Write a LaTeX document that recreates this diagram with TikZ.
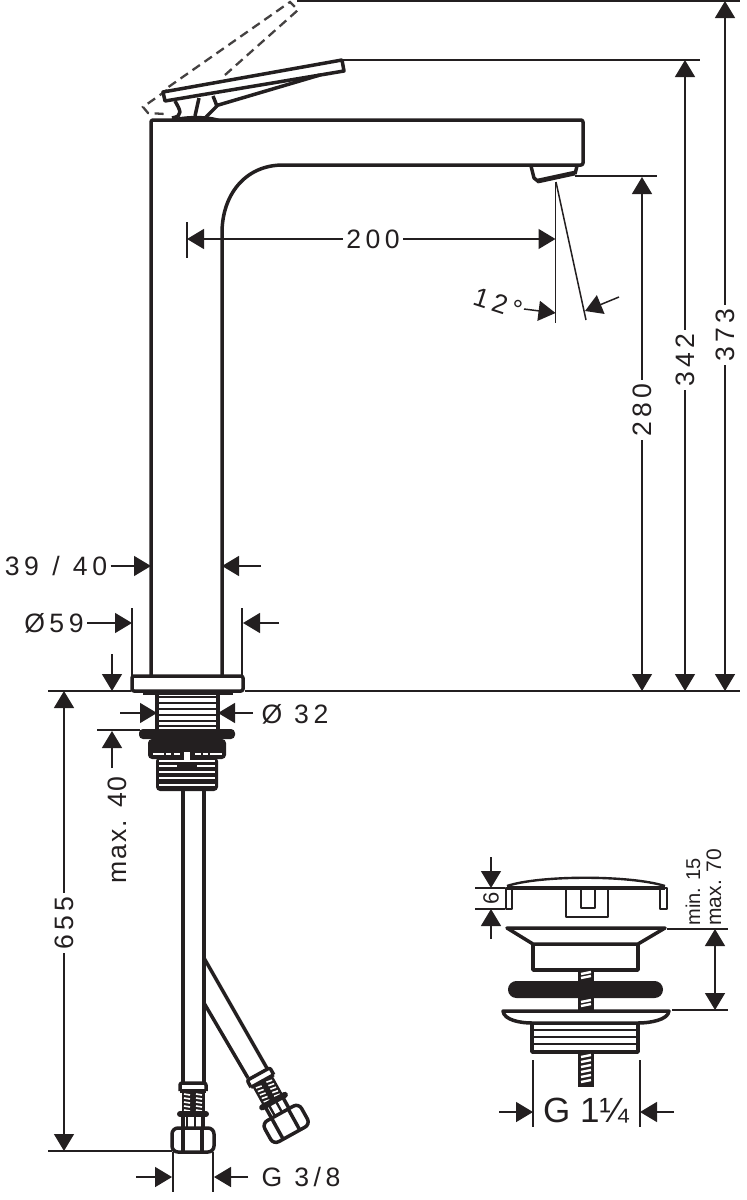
\documentclass[tikz,border=0pt]{standalone}
\usepackage{fontspec}
\usetikzlibrary{arrows.meta}
\newfontfamily\dimfont[LetterSpace=17]{Liberation Sans}
\newfontfamily\tightfont[LetterSpace=7]{Liberation Sans}
\newfontfamily\smallfont{Liberation Sans}
\definecolor{ink}{HTML}{231F20}
\tikzset{
    thickline/.style={line width=1.75pt,color=ink,line join=round},
    midline/.style={line width=1.2pt,color=ink,line join=round},
    dashline/.style={line width=1.15pt,color=ink!85,dash pattern=on 4.5pt off 2.8pt},
    thinline/.style={line width=0.75pt,color=ink},
    dimtip/.style={thinline,-{Triangle[length=8.5pt,width=10pt]}},
    dimboth/.style={thinline,{Triangle[length=8.5pt,width=10pt]}-{Triangle[length=8.5pt,width=10pt]}},
    dimtext/.style={font=\dimfont\fontsize{13.3}{15}\selectfont,color=ink,inner sep=1.5pt},
    hoseend/.pic={
        % collar, crimp, neck and nut of one hose
        \draw[thickline,fill=white,rounded corners=1pt] (-13,8) -- (-13,0) -- (13,0) -- (13,8);
        \draw[thickline] (-13,8) -- (13,8);
        \fill[ink] (-11.5,8) rectangle (11.5,31);
        \foreach \ya in {11,15,19,23,27} {
            \draw[line width=0.8pt,white] (-9,\ya) -- (-3,\ya+1);
            \draw[line width=0.8pt,white] (3,\ya) -- (9,\ya+1);
        }
        \draw[line width=3pt,color=ink,line cap=round] (-13,31) -- (13,31);
        \draw[thickline] (-10,33) -- (-10,45);
        \draw[midline] (-6,33) -- (-6,45);
        \draw[midline] (2,33) -- (2,45);
        \draw[thickline] (10,33) -- (10,45);
        \draw[thickline,fill=white,rounded corners=3pt] (-21,45) rectangle (21,69);
        \draw[thickline] (-10,45) -- (-10,69);
        \draw[thickline] (9,45) -- (9,69);
    },
}
\begin{document}
\begin{tikzpicture}[x=0.5pt,y=-0.5pt]
    \useasboundingbox (0,0) rectangle (747,1200);
    % tips of the dimension arrows
    \coordinate (T200a) at (187,239);
    \coordinate (T200b) at (555.5,239);
    \coordinate (T12a) at (555.5,313);
    \coordinate (E12a) at (524,309);
    \coordinate (T12b) at (585,311);
    \coordinate (E12b) at (619,297);
    \coordinate (T280a) at (642,177);
    \coordinate (T280b) at (642,691);
    \coordinate (T342a) at (685,60);
    \coordinate (T342b) at (685,691);
    \coordinate (T373a) at (725,1);
    \coordinate (T373b) at (725,691);
    \coordinate (T39a) at (151,566);
    \coordinate (T39b) at (222,566);
    \coordinate (E39b) at (261,566);
    \coordinate (T59a) at (132,623);
    \coordinate (T59b) at (243,623);
    \coordinate (E59b) at (279,623);
    \coordinate (T32a) at (157,713);
    \coordinate (E32a) at (120,713);
    \coordinate (T32b) at (218,713);
    \coordinate (E32b) at (253,713);
    \coordinate (T40a) at (112,691);
    \coordinate (E40a) at (112,654);
    \coordinate (T40b) at (112,731);
    \coordinate (E40b) at (112,768);
    \coordinate (T655a) at (64,691);
    \coordinate (T655b) at (64,1151);
    \coordinate (T38a) at (172,1177);
    \coordinate (E38a) at (136,1177);
    \coordinate (T38b) at (214,1177);
    \coordinate (E38b) at (248,1177);
    \coordinate (T6a) at (491,888);
    \coordinate (E6a) at (491,857);
    \coordinate (T6b) at (491,909);
    \coordinate (E6b) at (491,939);
    \coordinate (T70a) at (715,929);
    \coordinate (T70b) at (715,1010);
    \coordinate (T114a) at (533,1112);
    \coordinate (E114a) at (499,1112);
    \coordinate (T114b) at (640,1112);
    \coordinate (E114b) at (674,1112);
    % extension lines
    \draw[thinline] (297,1) -- (740,1);
    \draw[thinline] (342,60) -- (700,60);
    \draw[thinline] (575,176) -- (657,176);
    \draw[thinline] (48,691) -- (131,691);
    \draw[thinline] (245,691) -- (740,691);
    \draw[thinline] (187,222) -- (187,258);
    \draw[thinline] (555.5,182) -- (555.5,323);
    \draw[thinline] (556,182) -- (586,320);
    \draw[thinline] (132,608) -- (132,676);
    \draw[thinline] (242,608) -- (242,676);
    \draw[thinline] (97,730) -- (140,730);
    \draw[thinline] (48,1151) -- (172,1151);
    \draw[thinline] (173,1152) -- (173,1192);
    \draw[thinline] (213,1152) -- (213,1192);
    \draw[thinline] (475,888) -- (505,888);
    \draw[thinline] (475,909) -- (505,909);
    \draw[thinline] (667,929) -- (728,929);
    \draw[thinline] (672,1010) -- (728,1010);
    \draw[thinline] (533,1060) -- (533,1127);
    \draw[thinline] (640,1060) -- (640,1127);
    % handle, raised position dashed
    \draw[dashline] (225,75) -- (298,10) -- (290,2) -- (167,88);
    \draw[dashline] (167,90) -- (143,107) -- (148,113) -- (165,114);
    \draw[thickline] (163,92) -- (342,60) -- (344,71) -- (165,101) -- cycle;
    \draw[thickline] (215,106) -- (320,75);
    \draw[thickline] (175,101) .. controls (180,110) and (184,116) .. (172,118);
    \draw[thickline] (199,98) -- (195,116);
    \draw[thickline] (213,96) -- (217,106) -- (206,117);
    \fill[ink] (168,120) .. controls (180,115) and (210,114) .. (222,120) -- cycle;
    % faucet body
    \draw[thickline,rounded corners=1pt] (151,676) -- (151,120) -- (583,120) -- (583,165) -- (285,165)
        .. controls (245,165) and (222,195) .. (222,235) -- (222,676);
    \draw[thickline] (531,166) -- (534,178) -- (539,182);
    \draw[thickline] (577,166) -- (575,174);
    \draw[line width=2.4pt,color=ink] (538,181) -- (575,173);
    % flange and threads
    \draw[thickline,rounded corners=1pt] (132,676) rectangle (243,691);
    \draw[line width=1.5pt,color=ink] (143,693) -- (233,693);
    \draw[thickline] (157,693) -- (157,729);
    \draw[thickline] (218,693) -- (218,729);
    \foreach \ya in {697,703,709,715,721,726} {
        \draw[midline] (157,\ya) -- (218,\ya);
    }
    \fill[ink,rounded corners=2pt] (139,729) rectangle (235,739);
    \fill[ink,rounded corners=2pt] (148,739) rectangle (226,759);
    \fill[ink,rounded corners=2pt] (156,757) rectangle (218,791);
    \foreach \xa/\xb in {153/164,166/171,174/180,195/201,203/208,210/222} {
        \draw[midline,white] (\xa,754) -- (\xb,754);
    }
    \fill[white] (184,752) rectangle (190,760);
    \foreach \ya in {761,772,778,785} {
        \draw[midline,white] (159,\ya) -- (215,\ya);
    }
    \draw[midline,white] (159,766) -- (177,766);
    \draw[midline,white] (197,766) -- (215,766);
    % hoses
    \draw[thickline] (183,791) -- (183,1083);
    \draw[thickline] (204,791) -- (204,1083);
    \draw[thickline] (204,958) -- (268,1070);
    \draw[thickline] (204,1003) -- (248,1078);
    \pic at (193,1083) {hoseend};
    \pic[rotate=29] at (258.5,1074) {hoseend};
    % waste valve
    \draw[midline] (507,886) .. controls (540,875) and (630,875) .. (665,886);
    \draw[thickline] (507,888) -- (665,888);
    \draw[midline] (506,888) rectangle (512,909);
    \draw[midline] (660,888) rectangle (667,909);
    \draw[midline] (566,888) -- (566,917) -- (608,917) -- (608,888);
    \draw[midline] (581,888) -- (581,908) -- (595,908) -- (595,888);
    \draw[thickline] (507,928) -- (665,928) -- (638,944) -- (533,944) -- cycle;
    \draw[thickline] (533,944) -- (533,970) -- (638,970) -- (638,944);
    \fill[ink] (578,970) rectangle (594,982);
    \fill[ink] (578,998) rectangle (594,1011);
    \foreach \ya in {974,978,1002,1006} {
        \draw[midline,white] (581,\ya) -- (591,\ya-2);
    }
    \fill[ink,rounded corners=4.2pt] (508,981) rectangle (663,998);
    \draw[thickline] (503,1011) -- (669,1011) .. controls (668,1020) and (650,1023) .. (638,1023)
        -- (532,1023) .. controls (520,1023) and (504,1020) .. (503,1011) -- cycle;
    \draw[thickline] (532,1023) -- (532,1052) -- (638,1052) -- (638,1023);
    \foreach \ya in {1030,1037,1044} {
        \draw[midline] (532,\ya) -- (638,\ya);
    }
    \fill[ink] (578,1052) rectangle (594,1087);
    \foreach \ya in {1057,1062,1067,1072,1077,1082} {
        \draw[midline,white] (581,\ya) -- (591,\ya-2);
    }
    % dimension labels and arrows
    \node[dimtext] (d200) at (373,239) {200};
    \draw[dimtip] (d200) -- (T200a);
    \draw[dimtip] (d200) -- (T200b);
    \node[dimtext,rotate=-18] (d12) at (498,303) {12°};
    \draw[dimtip] (E12a) -- (T12a);
    \draw[dimtip] (E12b) -- (T12b);
    \node[dimtext,rotate=90] (d280) at (642,410) {280};
    \draw[dimtip] (d280) -- (T280a);
    \draw[dimtip] (d280) -- (T280b);
    \node[dimtext,rotate=90] (d342) at (685,360) {342};
    \draw[dimtip] (d342) -- (T342a);
    \draw[dimtip] (d342) -- (T342b);
    \node[dimtext,rotate=90] (d373) at (725,335) {373};
    \draw[dimtip] (d373) -- (T373a);
    \draw[dimtip] (d373) -- (T373b);
    \node[dimtext] (d39) at (56,566) {39\enspace/\enspace40};
    \draw[dimtip] (d39) -- (T39a);
    \draw[dimtip] (E39b) -- (T39b);
    \node[dimtext] (d59) at (54,623) {Ø\,59};
    \draw[dimtip] (d59) -- (T59a);
    \draw[dimtip] (E59b) -- (T59b);
    \node[dimtext] (d32) at (295,714) {Ø 32};
    \draw[dimtip] (E32a) -- (T32a);
    \draw[dimtip] (E32b) -- (T32b);
    \draw[dimtip] (E40a) -- (T40a);
    \node[dimtext,font=\tightfont\fontsize{13.3}{15}\selectfont,rotate=90] (d40) at (117,830) {max. 40};
    \draw[dimtip] (E40b) -- (T40b);
    \node[dimtext,rotate=90] (d655) at (64,923) {655};
    \draw[dimtip] (d655) -- (T655a);
    \draw[dimtip] (d655) -- (T655b);
    \node[dimtext] (d38) at (301,1177) {G 3/8};
    \draw[dimtip] (E38a) -- (T38a);
    \draw[dimtip] (E38b) -- (T38b);
    \draw[dimtip] (E6a) -- (T6a);
    \draw[dimtip] (E6b) -- (T6b);
    \node[font=\smallfont\fontsize{11}{12}\selectfont,color=ink,rotate=90,inner sep=0pt] (d6) at (491,898.5) {6};
    \node[font=\smallfont\fontsize{10}{11}\selectfont,color=ink,rotate=90,anchor=west,inner sep=0pt] (d15) at (693,926) {min. 15};
    \node[font=\smallfont\fontsize{10.5}{12}\selectfont,color=ink,rotate=90,anchor=west,inner sep=0pt] (d70) at (714,926) {max. 70};
    \draw[dimboth] (T70a) -- (T70b);
    \draw[dimtip] (E114a) -- (T114a);
    \draw[dimtip] (E114b) -- (T114b);
    \node[font=\smallfont\fontsize{17.5}{20}\selectfont,color=ink,inner sep=0pt] (d114) at (586,1111) {G 1¼};
\end{tikzpicture}
\end{document}
